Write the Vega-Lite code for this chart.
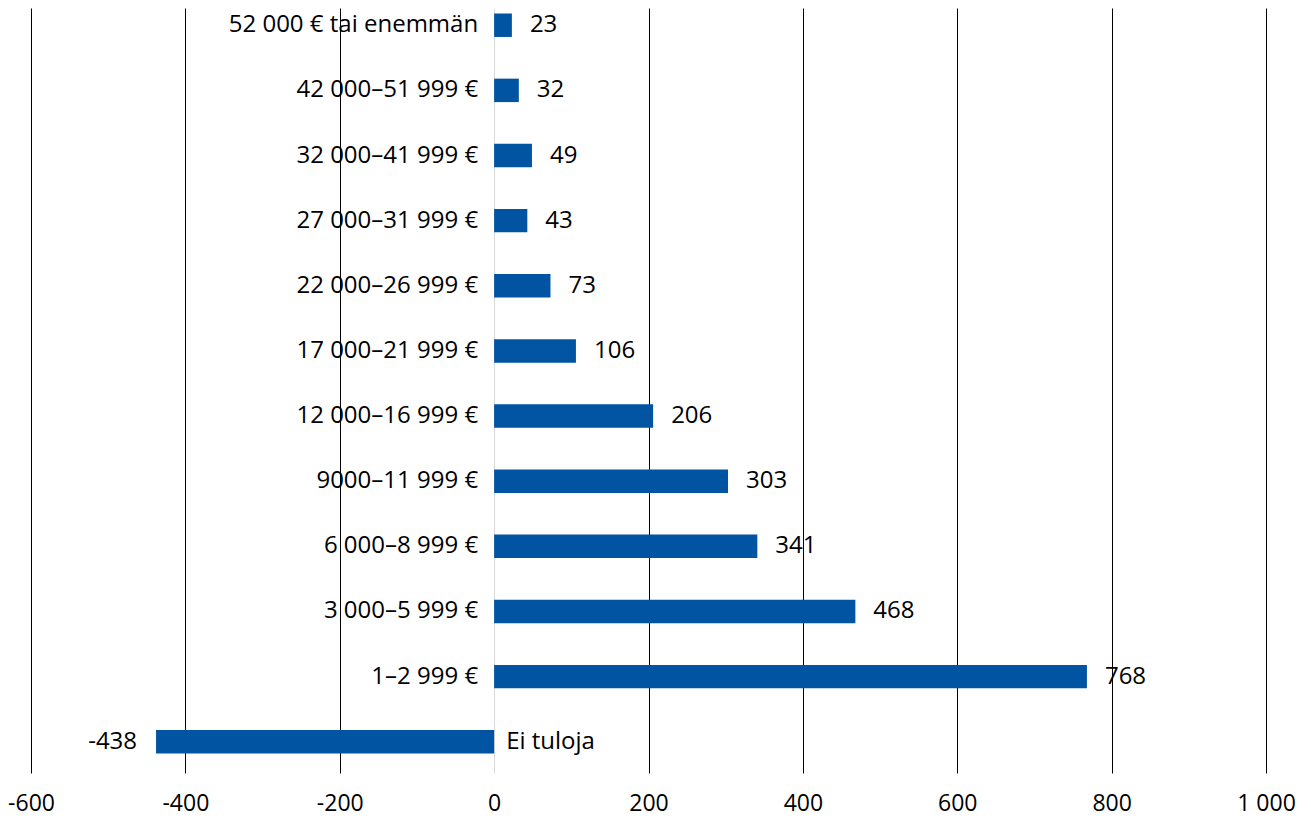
{
  "$schema": "https://vega.github.io/schema/vega-lite/v6.json",
  "autosize": {"type": "none"},
  "padding": {"left": 31, "top": 8, "right": 45, "bottom": 52},
  "width": 1235,
  "height": 765,
  "background": "white",
  "config": {
    "view": {"stroke": null},
    "font": "Open Sans",
    "text": {"font": "Open Sans", "fontSize": 24, "color": "#000000"}
  },
  "data": {
    "values": [
      {"category": "52 000 € tai enemmän", "value": 23},
      {"category": "42 000–51 999 €", "value": 32},
      {"category": "32 000–41 999 €", "value": 49},
      {"category": "27 000–31 999 €", "value": 43},
      {"category": "22 000–26 999 €", "value": 73},
      {"category": "17 000–21 999 €", "value": 106},
      {"category": "12 000–16 999 €", "value": 206},
      {"category": "9000–11 999 €", "value": 303},
      {"category": "6 000–8 999 €", "value": 341},
      {"category": "3 000–5 999 €", "value": 468},
      {"category": "1–2 999 €", "value": 768},
      {"category": "Ei tuloja", "value": -438}
    ]
  },
  "encoding": {
    "y": {
      "field": "category",
      "type": "nominal",
      "sort": null,
      "axis": null,
      "scale": {"paddingInner": 0.64, "paddingOuter": 0.192, "align": 0.22}
    }
  },
  "layer": [
    {
      "mark": {"type": "bar", "color": "#0054a1"},
      "encoding": {
        "x": {
          "field": "value",
          "type": "quantitative",
          "scale": {"domain": [-600, 1000], "nice": false, "zero": false},
          "axis": {
            "title": null,
            "values": [-600, -400, -200, 0, 200, 400, 600, 800, 1000],
            "grid": true,
            "gridColor": {"condition": {"test": "datum.value === 0", "value": "#d9d9d9"}, "value": "#000000"},
            "gridWidth": 1,
            "gridOpacity": 1,
            "domain": false,
            "ticks": false,
            "labelFont": "Open Sans",
            "labelFontSize": 23,
            "labelColor": "#000000",
            "labelPadding": 19,
            "labelFlush": false,
            "labelExpr": "(datum.value < 0 ? '-' : '') + replace(format(abs(datum.value), ','), ',', ' ')"
          }
        },
        "x2": {"datum": 0}
      }
    },
    {
      "transform": [{"filter": "datum.value >= 0"}],
      "mark": {"type": "text", "align": "right", "baseline": "middle", "dx": -16},
      "encoding": {
        "x": {"datum": 0, "type": "quantitative"},
        "text": {"field": "category", "type": "nominal"}
      }
    },
    {
      "transform": [{"filter": "datum.value < 0"}],
      "mark": {"type": "text", "align": "left", "baseline": "middle", "dx": 12},
      "encoding": {
        "x": {"datum": 0, "type": "quantitative"},
        "text": {"field": "category", "type": "nominal"}
      }
    },
    {
      "transform": [{"filter": "datum.value >= 0"}],
      "mark": {"type": "text", "align": "left", "baseline": "middle", "dx": 18},
      "encoding": {
        "x": {"field": "value", "type": "quantitative"},
        "text": {"field": "value", "type": "nominal"}
      }
    },
    {
      "transform": [{"filter": "datum.value < 0"}],
      "mark": {"type": "text", "align": "right", "baseline": "middle", "dx": -19},
      "encoding": {
        "x": {"field": "value", "type": "quantitative"},
        "text": {"field": "value", "type": "nominal"}
      }
    }
  ]
}
